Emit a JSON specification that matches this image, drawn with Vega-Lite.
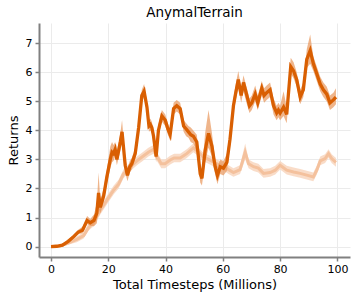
{
  "$schema": "https://vega.github.io/schema/vega-lite/v6.json",
  "width": 311,
  "height": 234,
  "autosize": {"type": "none"},
  "padding": {"left": 39, "top": 23, "right": 7, "bottom": 43},
  "background": "white",
  "title": {"text": "AnymalTerrain", "fontSize": 13.5, "fontWeight": "normal", "color": "black", "font": "DejaVu Sans", "offset": 4},
  "config": {
    "font": "DejaVu Sans",
    "view": {"stroke": null},
    "axis": {
      "domainColor": "#808080",
      "domainWidth": 2,
      "tickColor": "#808080",
      "tickWidth": 1.5,
      "tickSize": 4,
      "labelFontSize": 11,
      "labelColor": "black",
      "titleFontSize": 13,
      "titleFontWeight": "normal",
      "titleColor": "black",
      "gridColor": "#ebebeb",
      "gridWidth": 1
    }
  },
  "data": {
    "values": [
      {"s":"dark","x":0,"y":0,"lo":-0.01,"hi":0.02},
      {"s":"dark","x":2,"y":0.01,"lo":0,"hi":0.03},
      {"s":"dark","x":4,"y":0.05,"lo":0.02,"hi":0.09},
      {"s":"dark","x":6,"y":0.18,"lo":0.12,"hi":0.24},
      {"s":"dark","x":8,"y":0.35,"lo":0.28,"hi":0.42},
      {"s":"dark","x":9.5,"y":0.5,"lo":0.42,"hi":0.58},
      {"s":"dark","x":11,"y":0.56,"lo":0.46,"hi":0.68},
      {"s":"dark","x":12.6,"y":0.9,"lo":0.78,"hi":1.05},
      {"s":"dark","x":13.7,"y":0.82,"lo":0.72,"hi":0.95},
      {"s":"dark","x":15,"y":0.9,"lo":0.7,"hi":1.1},
      {"s":"dark","x":16,"y":1.15,"lo":0.8,"hi":1.5},
      {"s":"dark","x":16.6,"y":1.85,"lo":1.3,"hi":2.55},
      {"s":"dark","x":17.2,"y":1.35,"lo":1.15,"hi":1.6},
      {"s":"dark","x":18.4,"y":1.75,"lo":1.55,"hi":2.0},
      {"s":"dark","x":19.5,"y":2.4,"lo":2.15,"hi":2.65},
      {"s":"dark","x":20.7,"y":3.0,"lo":2.7,"hi":3.45},
      {"s":"dark","x":21.3,"y":3.25,"lo":2.9,"hi":3.6},
      {"s":"dark","x":21.8,"y":3.2,"lo":2.95,"hi":3.5},
      {"s":"dark","x":22.4,"y":3.35,"lo":3.1,"hi":3.6},
      {"s":"dark","x":23,"y":3.0,"lo":2.8,"hi":3.3},
      {"s":"dark","x":24.2,"y":3.6,"lo":3.3,"hi":3.9},
      {"s":"dark","x":24.8,"y":3.95,"lo":3.6,"hi":4.36},
      {"s":"dark","x":25.9,"y":2.8,"lo":2.55,"hi":3.05},
      {"s":"dark","x":26.7,"y":2.45,"lo":2.25,"hi":2.7},
      {"s":"dark","x":27.5,"y":2.75,"lo":2.55,"hi":2.95},
      {"s":"dark","x":28.2,"y":2.85,"lo":2.65,"hi":3.05},
      {"s":"dark","x":29.4,"y":3.2,"lo":3.0,"hi":3.4},
      {"s":"dark","x":30.6,"y":4.1,"lo":3.9,"hi":4.3},
      {"s":"dark","x":31.7,"y":5.2,"lo":5.0,"hi":5.4},
      {"s":"dark","x":32.5,"y":5.35,"lo":5.15,"hi":5.6},
      {"s":"dark","x":33.5,"y":4.8,"lo":4.6,"hi":5.0},
      {"s":"dark","x":34.2,"y":4.15,"lo":3.95,"hi":4.35},
      {"s":"dark","x":34.7,"y":4.2,"lo":4.0,"hi":4.4},
      {"s":"dark","x":35.2,"y":4.1,"lo":3.9,"hi":4.3},
      {"s":"dark","x":35.8,"y":3.8,"lo":3.6,"hi":4.0},
      {"s":"dark","x":36.7,"y":3.1,"lo":2.9,"hi":3.35},
      {"s":"dark","x":37.5,"y":4.0,"lo":3.8,"hi":4.2},
      {"s":"dark","x":38.7,"y":4.5,"lo":4.3,"hi":4.7},
      {"s":"dark","x":39.9,"y":4.35,"lo":4.15,"hi":4.55},
      {"s":"dark","x":40.8,"y":4.05,"lo":3.85,"hi":4.25},
      {"s":"dark","x":41.6,"y":3.85,"lo":3.65,"hi":4.05},
      {"s":"dark","x":42.8,"y":4.75,"lo":4.55,"hi":4.95},
      {"s":"dark","x":43.9,"y":4.85,"lo":4.65,"hi":5.05},
      {"s":"dark","x":45.1,"y":4.75,"lo":4.55,"hi":4.95},
      {"s":"dark","x":46.3,"y":4.15,"lo":3.95,"hi":4.35},
      {"s":"dark","x":47.2,"y":4.05,"lo":3.8,"hi":4.25},
      {"s":"dark","x":48,"y":3.95,"lo":3.75,"hi":4.15},
      {"s":"dark","x":48.8,"y":3.85,"lo":3.6,"hi":4.1},
      {"s":"dark","x":49.7,"y":3.8,"lo":3.55,"hi":4.0},
      {"s":"dark","x":50.9,"y":3.6,"lo":3.3,"hi":3.85},
      {"s":"dark","x":52.1,"y":2.5,"lo":2.2,"hi":2.8},
      {"s":"dark","x":52.7,"y":2.35,"lo":2.1,"hi":2.6},
      {"s":"dark","x":53.8,"y":3.3,"lo":2.9,"hi":3.9},
      {"s":"dark","x":55,"y":3.9,"lo":3.4,"hi":4.7},
      {"s":"dark","x":56.2,"y":3.45,"lo":3.1,"hi":3.9},
      {"s":"dark","x":57.3,"y":2.75,"lo":2.5,"hi":3.0},
      {"s":"dark","x":58.1,"y":2.45,"lo":2.15,"hi":2.75},
      {"s":"dark","x":59.1,"y":2.75,"lo":2.5,"hi":3.0},
      {"s":"dark","x":60.2,"y":2.7,"lo":2.45,"hi":2.95},
      {"s":"dark","x":61.4,"y":2.9,"lo":2.6,"hi":3.2},
      {"s":"dark","x":62.5,"y":3.7,"lo":3.4,"hi":4.0},
      {"s":"dark","x":63.7,"y":4.85,"lo":4.6,"hi":5.1},
      {"s":"dark","x":64.5,"y":5.3,"lo":5.05,"hi":5.6},
      {"s":"dark","x":65.4,"y":5.75,"lo":5.45,"hi":6.05},
      {"s":"dark","x":66.4,"y":5.2,"lo":4.95,"hi":5.45},
      {"s":"dark","x":67.2,"y":5.65,"lo":5.35,"hi":5.9},
      {"s":"dark","x":68.4,"y":5.2,"lo":4.9,"hi":5.45},
      {"s":"dark","x":69.3,"y":4.85,"lo":4.6,"hi":5.1},
      {"s":"dark","x":70.1,"y":4.95,"lo":4.7,"hi":5.2},
      {"s":"dark","x":71.3,"y":5.25,"lo":5.0,"hi":5.55},
      {"s":"dark","x":72.2,"y":4.95,"lo":4.7,"hi":5.2},
      {"s":"dark","x":73.6,"y":5.45,"lo":5.2,"hi":5.7},
      {"s":"dark","x":74.4,"y":5.2,"lo":4.95,"hi":5.45},
      {"s":"dark","x":75.3,"y":5.3,"lo":5.05,"hi":5.55},
      {"s":"dark","x":76.5,"y":5.4,"lo":5.15,"hi":5.65},
      {"s":"dark","x":77.7,"y":4.85,"lo":4.55,"hi":5.1},
      {"s":"dark","x":78.8,"y":4.6,"lo":4.35,"hi":4.85},
      {"s":"dark","x":79.4,"y":4.7,"lo":4.45,"hi":4.95},
      {"s":"dark","x":80,"y":4.6,"lo":4.35,"hi":4.85},
      {"s":"dark","x":81.2,"y":4.8,"lo":4.5,"hi":5.35},
      {"s":"dark","x":82.3,"y":4.55,"lo":4.25,"hi":4.8},
      {"s":"dark","x":83.7,"y":6.2,"lo":5.95,"hi":6.5},
      {"s":"dark","x":84.7,"y":6.05,"lo":5.8,"hi":6.35},
      {"s":"dark","x":85.8,"y":5.75,"lo":5.5,"hi":6.0},
      {"s":"dark","x":87,"y":5.15,"lo":4.9,"hi":5.4},
      {"s":"dark","x":88.1,"y":5.4,"lo":5.15,"hi":5.65},
      {"s":"dark","x":89.3,"y":6.45,"lo":6.15,"hi":6.8},
      {"s":"dark","x":90.5,"y":6.75,"lo":6.3,"hi":7.3},
      {"s":"dark","x":91.6,"y":6.3,"lo":6.05,"hi":6.55},
      {"s":"dark","x":92.8,"y":5.95,"lo":5.7,"hi":6.2},
      {"s":"dark","x":94,"y":5.6,"lo":5.35,"hi":5.85},
      {"s":"dark","x":95.1,"y":5.4,"lo":5.15,"hi":5.65},
      {"s":"dark","x":96.3,"y":5.25,"lo":5.0,"hi":5.5},
      {"s":"dark","x":97.4,"y":4.95,"lo":4.7,"hi":5.2},
      {"s":"dark","x":98.6,"y":5.05,"lo":4.8,"hi":5.3},
      {"s":"dark","x":99.5,"y":5.15,"lo":4.9,"hi":5.45},
      {"s":"light","x":0,"y":0,"lo":-0.02,"hi":0.02},
      {"s":"light","x":3,"y":0.02,"lo":-0.01,"hi":0.05},
      {"s":"light","x":5.6,"y":0.1,"lo":0.05,"hi":0.15},
      {"s":"light","x":9,"y":0.25,"lo":0.15,"hi":0.35},
      {"s":"light","x":11.4,"y":0.38,"lo":0.28,"hi":0.5},
      {"s":"light","x":13.1,"y":0.65,"lo":0.55,"hi":0.8},
      {"s":"light","x":14.9,"y":0.85,"lo":0.7,"hi":1.0},
      {"s":"light","x":17.2,"y":1.25,"lo":1.1,"hi":1.4},
      {"s":"light","x":19.5,"y":1.6,"lo":1.45,"hi":1.75},
      {"s":"light","x":21.9,"y":1.95,"lo":1.8,"hi":2.1},
      {"s":"light","x":23.6,"y":2.15,"lo":2.0,"hi":2.3},
      {"s":"light","x":25.3,"y":2.5,"lo":2.35,"hi":2.65},
      {"s":"light","x":27.7,"y":2.75,"lo":2.6,"hi":2.9},
      {"s":"light","x":30,"y":2.95,"lo":2.8,"hi":3.1},
      {"s":"light","x":32,"y":3.1,"lo":2.95,"hi":3.25},
      {"s":"light","x":34,"y":3.25,"lo":3.1,"hi":3.4},
      {"s":"light","x":35.8,"y":3.35,"lo":3.2,"hi":3.5},
      {"s":"light","x":37,"y":3.1,"lo":2.95,"hi":3.25},
      {"s":"light","x":38.5,"y":2.85,"lo":2.7,"hi":3.0},
      {"s":"light","x":39.8,"y":2.85,"lo":2.7,"hi":3.0},
      {"s":"light","x":41.6,"y":2.98,"lo":2.83,"hi":3.13},
      {"s":"light","x":43,"y":3.05,"lo":2.9,"hi":3.2},
      {"s":"light","x":45.1,"y":3.05,"lo":2.9,"hi":3.2},
      {"s":"light","x":47.4,"y":3.2,"lo":3.05,"hi":3.35},
      {"s":"light","x":49.7,"y":3.4,"lo":3.25,"hi":3.55},
      {"s":"light","x":51,"y":3.3,"lo":3.15,"hi":3.45},
      {"s":"light","x":53,"y":3.1,"lo":2.95,"hi":3.25},
      {"s":"light","x":55,"y":3.0,"lo":2.85,"hi":3.15},
      {"s":"light","x":57,"y":2.9,"lo":2.75,"hi":3.05},
      {"s":"light","x":59,"y":2.8,"lo":2.65,"hi":2.95},
      {"s":"light","x":60.5,"y":2.75,"lo":2.6,"hi":2.9},
      {"s":"light","x":62,"y":2.65,"lo":2.5,"hi":2.8},
      {"s":"light","x":63.7,"y":2.55,"lo":2.4,"hi":2.7},
      {"s":"light","x":66,"y":2.65,"lo":2.5,"hi":2.8},
      {"s":"light","x":67.8,"y":3.25,"lo":3.0,"hi":3.55},
      {"s":"light","x":69,"y":2.85,"lo":2.7,"hi":3.0},
      {"s":"light","x":70.7,"y":2.75,"lo":2.6,"hi":2.9},
      {"s":"light","x":72.4,"y":2.7,"lo":2.55,"hi":2.85},
      {"s":"light","x":74.2,"y":2.52,"lo":2.37,"hi":2.67},
      {"s":"light","x":76.5,"y":2.55,"lo":2.4,"hi":2.7},
      {"s":"light","x":78.3,"y":2.63,"lo":2.48,"hi":2.78},
      {"s":"light","x":80,"y":2.8,"lo":2.65,"hi":2.95},
      {"s":"light","x":82.3,"y":2.63,"lo":2.48,"hi":2.78},
      {"s":"light","x":84.7,"y":2.57,"lo":2.42,"hi":2.72},
      {"s":"light","x":87,"y":2.52,"lo":2.37,"hi":2.67},
      {"s":"light","x":89.3,"y":2.46,"lo":2.31,"hi":2.61},
      {"s":"light","x":91.6,"y":2.4,"lo":2.25,"hi":2.55},
      {"s":"light","x":92.8,"y":2.63,"lo":2.48,"hi":2.78},
      {"s":"light","x":94,"y":2.95,"lo":2.8,"hi":3.1},
      {"s":"light","x":95.7,"y":3.03,"lo":2.88,"hi":3.18},
      {"s":"light","x":96.9,"y":3.2,"lo":3.05,"hi":3.35},
      {"s":"light","x":98,"y":3.03,"lo":2.88,"hi":3.18},
      {"s":"light","x":99.5,"y":2.9,"lo":2.75,"hi":3.05}
    ]
  },
  "encoding": {
    "x": {"field": "x", "type": "quantitative", "title": "Total Timesteps (Millions)",
      "scale": {"domain": [-4.2, 104.4], "nice": false, "zero": false},
      "axis": {"values": [0, 20, 40, 60, 80, 100], "labelPadding": 2, "titlePadding": 4, "labelFlush": false}},
    "y": {"field": "y", "type": "quantitative", "title": "Returns",
      "scale": {"domain": [-0.36, 7.7], "nice": false, "zero": false},
      "axis": {"values": [0, 1, 2, 3, 4, 5, 6, 7], "labelPadding": 3, "titlePadding": 5, "labelFlush": false}}
  },
  "layer": [
    {"transform": [{"filter": "datum.s === 'light'"}], "mark": {"type": "area", "color": "#f8d6be", "opacity": 0.85, "clip": true},
      "encoding": {"y": {"field": "lo", "type": "quantitative"}, "y2": {"field": "hi"}}},
    {"transform": [{"filter": "datum.s === 'light'"}], "mark": {"type": "line", "color": "#f4c19d", "strokeWidth": 3, "clip": true}},
    {"transform": [{"filter": "datum.s === 'dark'"}], "mark": {"type": "area", "color": "#e8955a", "opacity": 0.7, "clip": true},
      "encoding": {"y": {"field": "lo", "type": "quantitative"}, "y2": {"field": "hi"}}},
    {"transform": [{"filter": "datum.s === 'dark'"}], "mark": {"type": "line", "color": "#d95f02", "strokeWidth": 3.3, "clip": true}}
  ]
}
